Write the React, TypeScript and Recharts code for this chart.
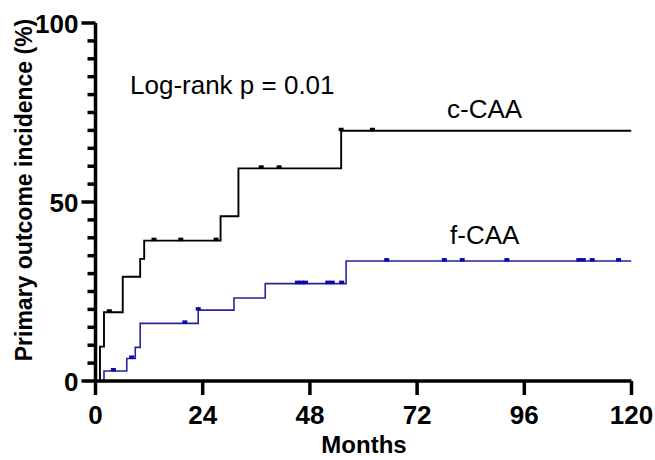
import { ComposedChart, Line, Scatter, XAxis, YAxis } from 'recharts';

// ─── Data ────────────────────────────────────────────────────────────────────
const monthTicks = [0, 24, 48, 72, 96, 120];
const pctTicks = [0, 5, 10, 15, 20, 25, 30, 35, 40, 45, 50, 55, 60, 65, 70, 75, 80, 85, 90, 95, 100];
const pctLabels = [0, 50, 100];

// c-CAA: step times (months) and cumulative incidence after each step (%)
const cTime = [0, 1.0, 1.9, 6.1, 10.0, 10.9, 28.0, 32.0, 55.0, 120];
const cPct = [0, 9.6, 19.2, 29.1, 34.1, 39.2, 46.0, 59.4, 69.9, 69.9];
const cCensTime = [3.1, 13.1, 19.1, 27.0, 37.1, 41.1, 55.0, 62.0];
const cCensPct = [19.2, 39.2, 39.2, 39.2, 59.4, 59.4, 69.9, 69.9];

// f-CAA
const fTime = [0, 1.9, 7.0, 8.9, 10.0, 23.0, 31.0, 38.0, 56.1, 120];
const fPct = [0, 2.8, 6.3, 9.4, 16.1, 19.8, 23.2, 27.2, 33.5, 33.5];
const fCensTime = [4.0, 8.1, 20.0, 23.0, 45.2, 46.1, 47.0, 52.0, 53.0, 55.1, 65.2, 78.1, 82.1, 92.1, 108.2, 109.2, 111.2, 117.1];
const fCensPct = [2.8, 6.3, 16.1, 19.8, 27.2, 27.2, 27.2, 27.2, 27.2, 27.2, 33.5, 33.5, 33.5, 33.5, 33.5, 33.5, 33.5, 33.5];

const zip = (xs: number[], ys: number[]) => xs.map((x, i) => ({ x, y: ys[i] }));

const cLine = zip(cTime, cPct);
const cCens = zip(cCensTime, cCensPct);
const fLine = zip(fTime, fPct);
const fCens = zip(fCensTime, fCensPct);

const FONT = '"Liberation Sans", Arial, sans-serif';
const BLACK = '#000000';
const BLUE_LINE = '#25259a';
const BLUE_MARK = '#0a0aac';

// ─── Ticks ───────────────────────────────────────────────────────────────────
const XTick = ({ x, y, payload }: any) => (
  <g>
    <line x1={x} x2={x} y1={y} y2={y + 14} stroke={BLACK} strokeWidth={3.5} />
    <text x={x} y={y + 43} textAnchor="middle" fontFamily={FONT} fontWeight="bold" fontSize={26} fill={BLACK}>
      {payload.value}
    </text>
  </g>
);

const YTick = ({ x, y, payload }: any) => {
  const major = pctLabels.includes(payload.value);
  return (
    <g>
      <line x1={x - (major ? 14 : 8)} x2={x} y1={y} y2={y} stroke={BLACK} strokeWidth={3.5} />
      {major && (
        <text x={x - 17} y={y + 9.5} textAnchor="end" fontFamily={FONT} fontWeight="bold" fontSize={26} fill={BLACK}>
          {payload.value}
        </text>
      )}
    </g>
  );
};

const censorMark = (color: string) => (props: any) => (
  <rect x={props.cx - 2.5} y={props.cy - 3} width={5} height={3.5} fill={color} />
);

export default function App() {
  return (
    <div style={{ position: 'absolute', left: 0, top: 0, width: 655, height: 460, background: '#fff' }}>
      <ComposedChart width={655} height={460} margin={{ top: 23, right: 23.5, bottom: 0, left: 0 }}>
        <XAxis
          dataKey="x"
          type="number"
          domain={[0, 120]}
          ticks={monthTicks}
          interval={0}
          height={79}
          tickSize={0}
          tickMargin={0}
          tickLine={false}
          axisLine={{ stroke: BLACK, strokeWidth: 3.5 }}
          tick={<XTick />}
          allowDataOverflow
        />
        <YAxis
          type="number"
          domain={[0, 100]}
          ticks={pctTicks}
          interval={0}
          width={95.5}
          tickSize={0}
          tickMargin={0}
          tickLine={false}
          axisLine={{ stroke: BLACK, strokeWidth: 3.5 }}
          tick={<YTick />}
          allowDataOverflow
        />
        <Line data={fLine} dataKey="y" type="stepAfter" stroke={BLUE_LINE} strokeWidth={1.6} dot={false} isAnimationActive={false} />
        <Line data={cLine} dataKey="y" type="stepAfter" stroke={BLACK} strokeWidth={1.9} dot={false} isAnimationActive={false} />
        <Scatter data={fCens} dataKey="y" shape={censorMark(BLUE_MARK)} isAnimationActive={false} />
        <Scatter data={cCens} dataKey="y" shape={censorMark(BLACK)} isAnimationActive={false} />
      </ComposedChart>
      <svg width={655} height={460} style={{ position: 'absolute', left: 0, top: 0, pointerEvents: 'none' }}>
        <text x={130} y={94} fontFamily={FONT} fontSize={26} fill={BLACK}>Log-rank p = 0.01</text>
        <text x={447} y={118} fontFamily={FONT} fontSize={26} fill={BLACK}>c-CAA</text>
        <text x={450} y={244} fontFamily={FONT} fontSize={26} fill={BLACK}>f-CAA</text>
        <text x={364} y={453} textAnchor="middle" fontFamily={FONT} fontWeight="bold" fontSize={24} fill={BLACK}>Months</text>
        <text
          transform="translate(32,190) rotate(-90)"
          textAnchor="middle"
          fontFamily={FONT}
          fontWeight="bold"
          fontSize={23}
          fill={BLACK}
        >
          Primary outcome incidence (%)
        </text>
      </svg>
    </div>
  );
}
